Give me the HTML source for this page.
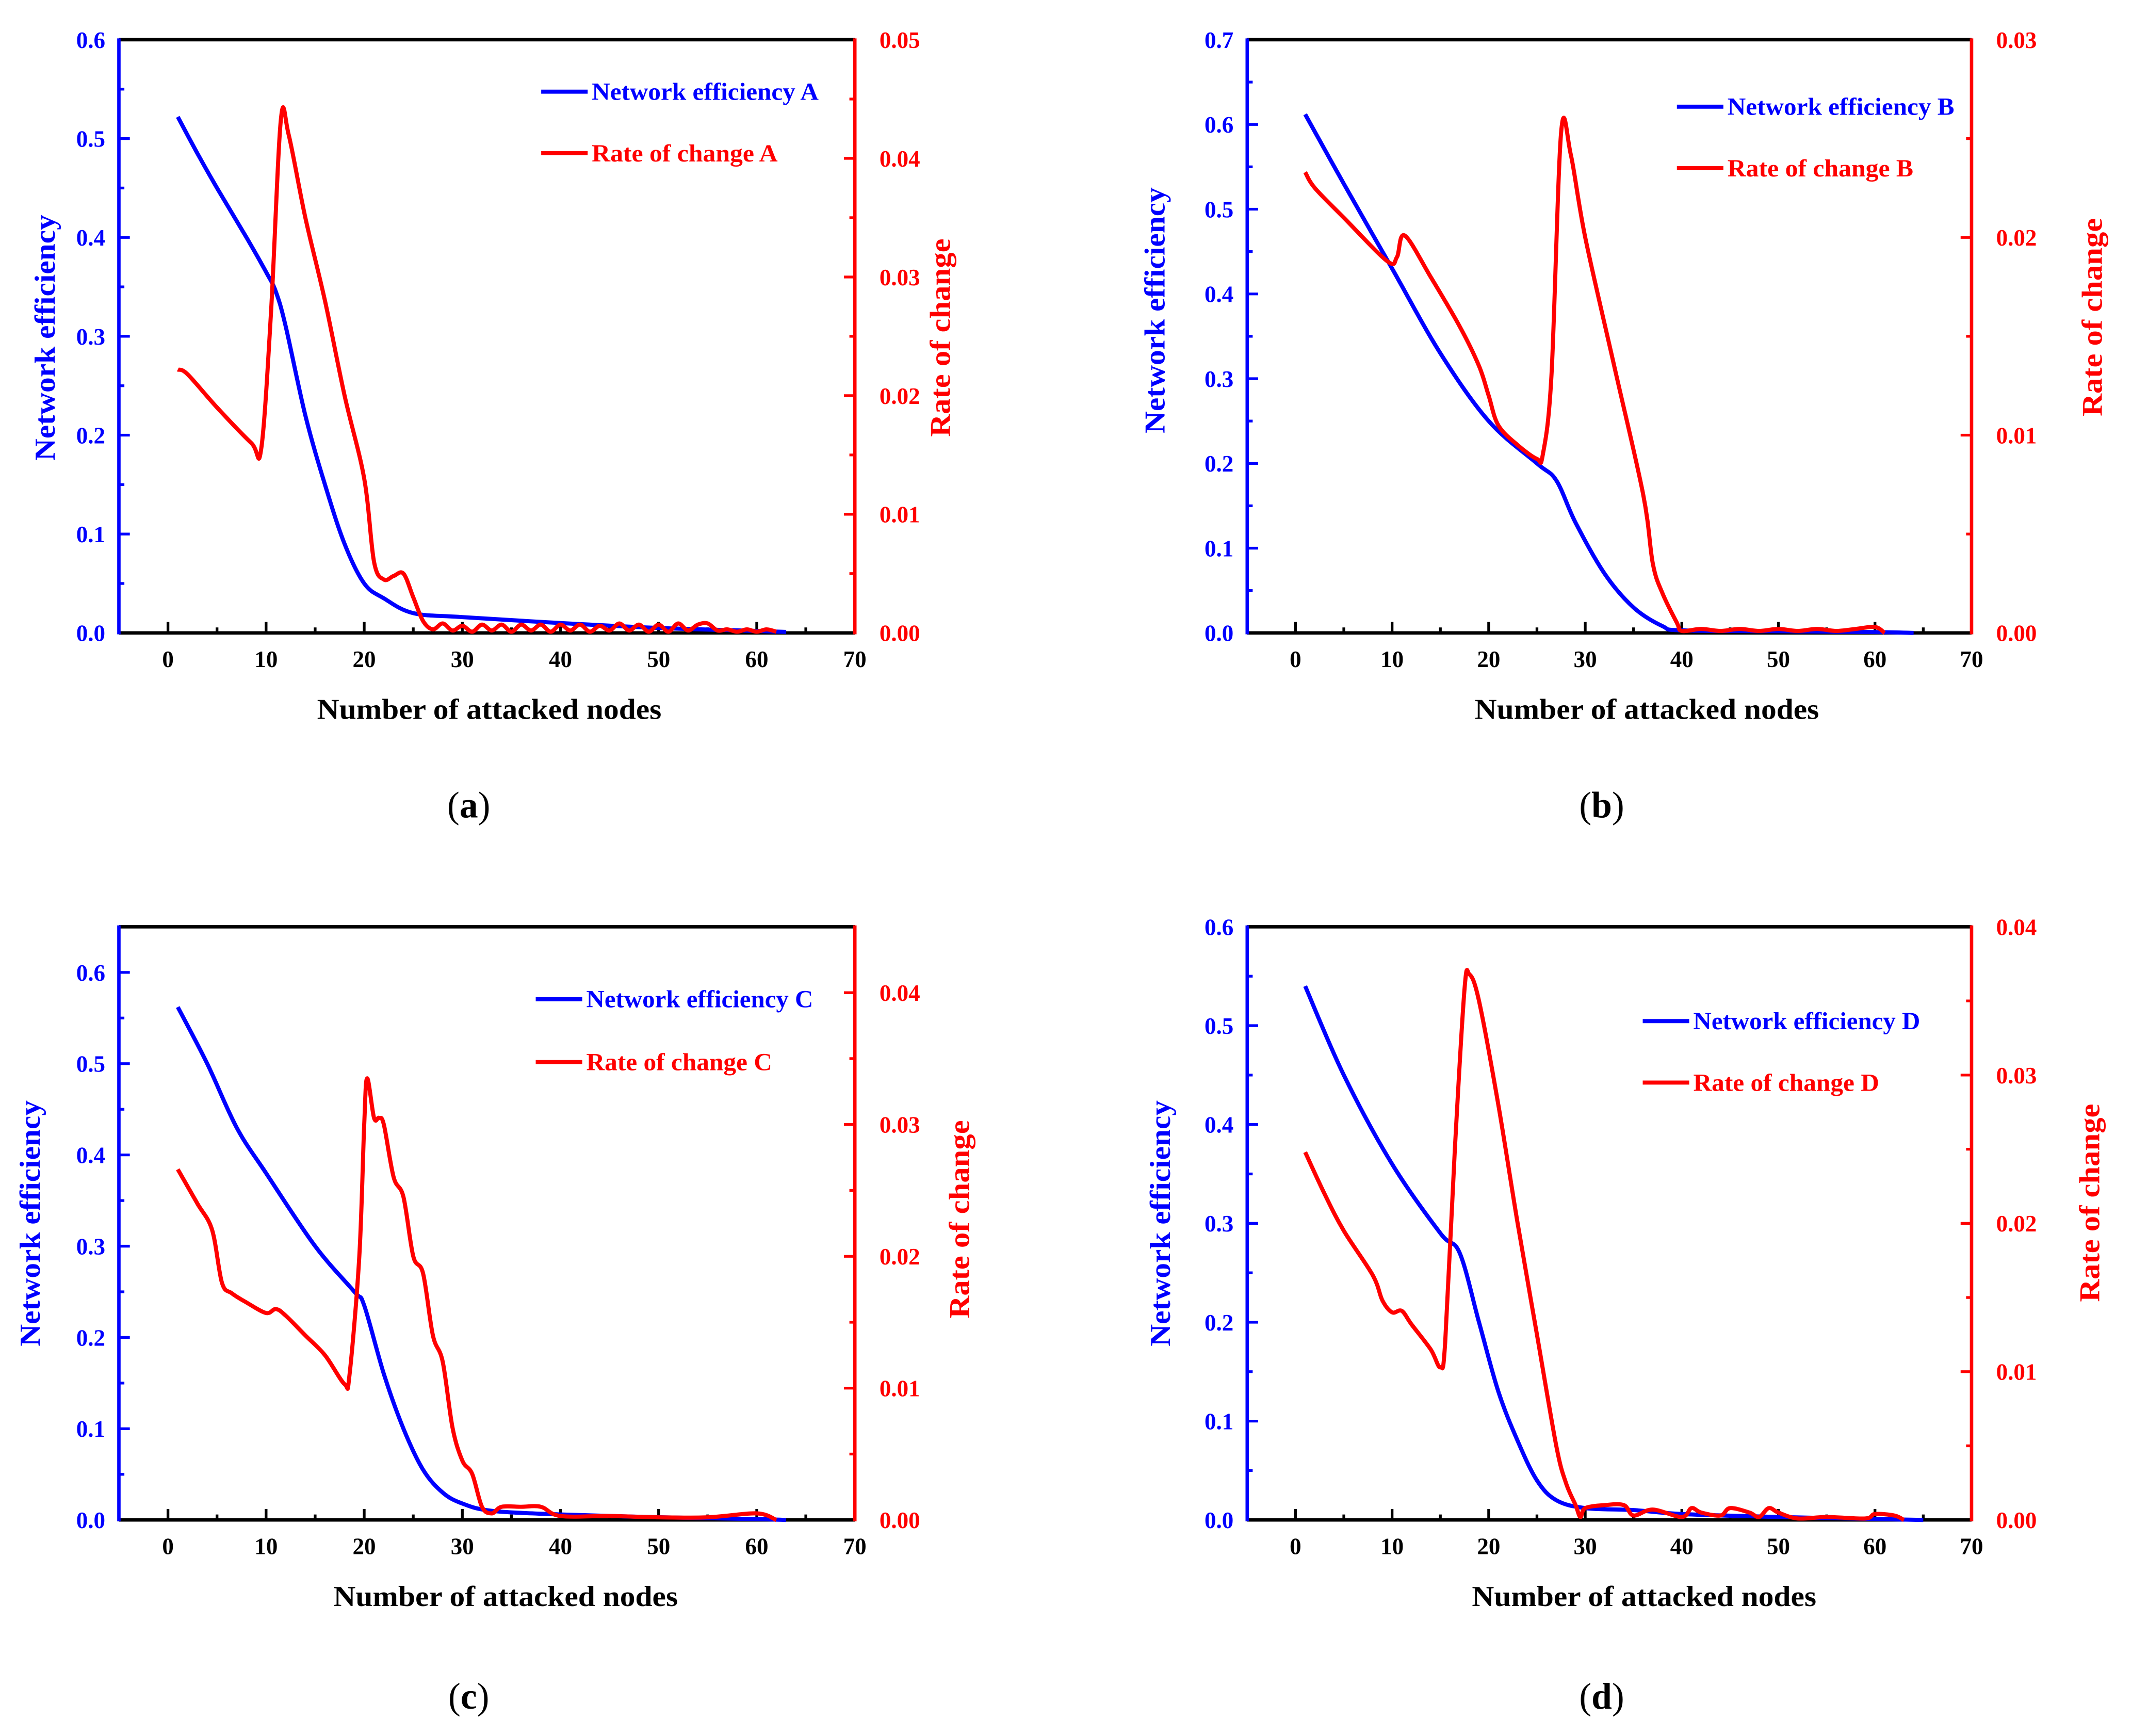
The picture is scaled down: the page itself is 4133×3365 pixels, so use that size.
<!DOCTYPE html>
<html><head><meta charset="utf-8"><style>
html,body{margin:0;padding:0;background:#fff}
svg{display:block}
text{font-family:"Liberation Serif",serif;font-weight:bold}
</style></head><body>
<svg id="fig" width="4133" height="3365" viewBox="0 0 1560 1270" xmlns="http://www.w3.org/2000/svg"></svg>
<script>
const xTicks=[0,10,20,30,40,50,60,70];
// Panel A
const aEffX=[1,3,5,8,10,11,12,14,16,18,20,22,25,30,40,50,60,63];
const aEffY=[0.522,0.485,0.45,0.40,0.365,0.345,0.31,0.22,0.15,0.09,0.05,0.035,0.02,0.016,0.01,0.005,0.002,0.001];
const aRateX=[1,2,5,8.5,9.5,10.5,11.5,12.3,14,16,18,20,21,22,23,24,25,26,27,28,29,30,31,32,33,34,35,36,37,38,39,40,41,42,43,44,45,46,47,48,49,50,51,52,53,54,55,56,57,58,59,60,61,62];
const aRateY=[0.0222,0.0218,0.019,0.016,0.0155,0.027,0.0432,0.042,0.035,0.028,0.02,0.013,0.006,0.0045,0.0048,0.005,0.003,0.001,0.0003,0.0008,0.0002,0.0006,0.0001,0.0007,0.0002,0.0007,0.0001,0.0007,0.0002,0.0007,0.0001,0.0007,0.0002,0.0007,0.0001,0.0006,0.0002,0.0008,0.0002,0.0007,0.0001,0.0007,0.0001,0.0008,0.0002,0.0007,0.0008,0.0002,0.0003,0.0001,0.0003,0.0001,0.0003,0.0001];
// Panel B
const bEffX=[1,5,10,15,20,25,27,29,32,35,38,40,50,60,64];
const bEffY=[0.612,0.53,0.43,0.33,0.25,0.2,0.18,0.13,0.07,0.03,0.008,0.003,0.002,0.001,0.0];
const bRateX=[1,2,5,9.5,10.5,11.3,14,17,19,20,21,23,25,25.6,26.5,27.5,28.5,30,33,36,37,38,39.5,40,42,44,46,48,50,52,54,56,58,60,61];
const bRateY=[0.0233,0.0225,0.021,0.0188,0.019,0.0201,0.018,0.0155,0.0135,0.012,0.0105,0.0095,0.0088,0.009,0.013,0.0253,0.0242,0.02,0.0135,0.007,0.0035,0.002,0.0005,0.0001,0.0002,0.0001,0.0002,0.0001,0.0002,0.0001,0.0002,0.0001,0.0002,0.0003,0.0];
// Panel C
const cEffX=[1,4,7,10,15,19,20,22,24,26,28,30,33,40,50,60,63];
const cEffY=[0.562,0.5,0.43,0.38,0.30,0.25,0.235,0.16,0.1,0.055,0.03,0.018,0.01,0.006,0.003,0.001,0.0];
const cRateX=[1,3,4.5,5.5,6.5,8,10,11,12,14,16,18,18.5,19.5,20,20.3,21,21.5,22,23,24,25,26,27,28,29,30,31,32,33,34,36,38,40,45,50,55,60,62];
const cRateY=[0.0266,0.024,0.022,0.018,0.0172,0.0165,0.0157,0.016,0.0155,0.014,0.0125,0.0103,0.011,0.02,0.03,0.0335,0.0305,0.0305,0.030,0.026,0.0245,0.02,0.0187,0.014,0.012,0.007,0.0045,0.0035,0.001,0.0005,0.001,0.001,0.001,0.0003,0.0003,0.0002,0.0002,0.0005,0.0];
// Panel D
const dEffX=[1,5,10,15,17,19,21,23,25,27,30,35,40,50,60,65];
const dEffY=[0.54,0.45,0.36,0.29,0.27,0.2,0.13,0.08,0.04,0.02,0.012,0.01,0.006,0.003,0.001,0.0];
const dRateX=[1,3,5,8,9,10,11,12,14,15,15.5,16.5,17.5,18,19,21,23,25,27,28,29,29.5,30,32,34,35,37,40,41,42,44,45,47,48,49,50,52,55,59,60,62,63];
const dRateY=[0.0248,0.022,0.0195,0.0165,0.0148,0.014,0.0141,0.0132,0.0115,0.0103,0.012,0.025,0.0358,0.0368,0.035,0.028,0.02,0.0125,0.005,0.0025,0.001,0.0002,0.0008,0.001,0.001,0.0003,0.0007,0.0002,0.0008,0.0005,0.0003,0.0008,0.0005,0.0002,0.0008,0.0005,0.0001,0.0002,0.0001,0.0004,0.0003,0.0];

const panels=[
 {id:'a',L:87,R:625.5,T:29,B:463,lmax:0.6,lticks:[0,0.1,0.2,0.3,0.4,0.5,0.6],rmax:0.05,rticks:[0,0.01,0.02,0.03,0.04,0.05],
  eX:aEffX,eY:aEffY,rX:aRateX,rY:aRateY,leg:[396,67,112],lt:[33,247],rt:[688,247],lab:[343,598],xt:358,tag:'A'},
 {id:'b',L:912.6,R:1442.6,T:29,B:463,lmax:0.7,lticks:[0,0.1,0.2,0.3,0.4,0.5,0.6,0.7],rmax:0.03,rticks:[0,0.01,0.02,0.03],
  eX:bEffX,eY:bEffY,rX:bRateX,rY:bRateY,leg:[1227,78,123],lt:[845,227],rt:[1531,232],lab:[1172,598],xt:1205,tag:'B'},
 {id:'c',L:87,R:625.5,T:678,B:1112,lmax:0.65,lticks:[0,0.1,0.2,0.3,0.4,0.5,0.6],rmax:0.045,rticks:[0,0.01,0.02,0.03,0.04],
  eX:cEffX,eY:cEffY,rX:cRateX,rY:cRateY,leg:[392,731,777],lt:[22,895],rt:[702,892],lab:[343,1250],xt:370,tag:'C'},
 {id:'d',L:912.6,R:1442.6,T:678,B:1112,lmax:0.6,lticks:[0,0.1,0.2,0.3,0.4,0.5,0.6],rmax:0.04,rticks:[0,0.01,0.02,0.03,0.04],
  eX:dEffX,eY:dEffY,rX:dRateX,rY:dRateY,leg:[1202,747,792],lt:[849,895],rt:[1529,880],lab:[1172,1250],xt:1203,tag:'D'}
];
const NS='http://www.w3.org/2000/svg';
const svg=document.getElementById('fig');
function mk(tag,attrs,parent,txt){const e=document.createElementNS(NS,tag);for(const k in attrs)e.setAttribute(k,attrs[k]);if(txt!==undefined)e.textContent=txt;(parent||svg).appendChild(e);return e;}
function smooth(pts){let d='M'+pts[0][0].toFixed(2)+','+pts[0][1].toFixed(2);
 for(let i=0;i<pts.length-1;i++){const p0=pts[Math.max(0,i-1)],p1=pts[i],p2=pts[i+1],p3=pts[Math.min(pts.length-1,i+2)];
  const c1=[p1[0]+(p2[0]-p0[0])/6,p1[1]+(p2[1]-p0[1])/6],c2=[p2[0]-(p3[0]-p1[0])/6,p2[1]-(p3[1]-p1[1])/6];
  d+=' C'+c1[0].toFixed(2)+','+c1[1].toFixed(2)+' '+c2[0].toFixed(2)+','+c2[1].toFixed(2)+' '+p2[0].toFixed(2)+','+p2[1].toFixed(2);}
 return d;}
panels.forEach(p=>{
 const g=mk('g',{});
 
 
 const xs=v=>p.L+(v+5)/75*(p.R-p.L);
 const yl=v=>p.B-v/p.lmax*(p.B-p.T);
 const yr=v=>p.B-v/p.rmax*(p.B-p.T);
 for(let v=0;v<=70;v+=5){const maj=v%10===0;
  const t=mk('line',{x1:xs(v),x2:xs(v),y1:p.B,y2:p.B-(maj?8:4),stroke:'#000','stroke-width':2},g);
  }
 xTicks.forEach(v=>{const t=mk('text',{x:xs(v),y:p.B+25,'text-anchor':'middle','font-size':17,fill:'#000'},g,String(v));
  });
 for(let v=0;v<=p.lmax+1e-9;v+=0.05){const maj=Math.abs(Math.round(v*10)-v*10)<1e-6;
  const t=mk('line',{x1:p.L,x2:p.L+(maj?8:4),y1:yl(v),y2:yl(v),stroke:'#0000ff','stroke-width':2},g);
  }
 p.lticks.forEach(v=>{const t=mk('text',{x:p.L-10,y:yl(v)+6,'text-anchor':'end','font-size':17,fill:'#0000ff'},g,v.toFixed(1));
  });
 const rstep=p.rticks[1]/2;
 for(let v=0;v<=p.rmax+1e-9;v+=rstep){const maj=Math.abs(Math.round(v/p.rticks[1])-v/p.rticks[1])<1e-6;
  const t=mk('line',{x1:p.R,x2:p.R-(maj?8:4),y1:yr(v),y2:yr(v),stroke:'#ff0000','stroke-width':2},g);
  }
 p.rticks.forEach(v=>{const t=mk('text',{x:p.R+18,y:yr(v)+6,'text-anchor':'start','font-size':17,fill:'#ff0000'},g,v.toFixed(2));
  });
 let e=mk('line',{x1:p.L,x2:p.R,y1:p.T,y2:p.T,stroke:'#000','stroke-width':2.5},g);
 
 e=mk('line',{x1:p.L,x2:p.R,y1:p.B,y2:p.B,stroke:'#000','stroke-width':2.5},g);
 
 e=mk('line',{x1:p.L,x2:p.L,y1:p.T-1,y2:p.B+1,stroke:'#0000ff','stroke-width':2.5},g);
 
 e=mk('line',{x1:p.R,x2:p.R,y1:p.T-1,y2:p.B+1,stroke:'#ff0000','stroke-width':2.5},g);
 
 e=mk('path',{d:smooth(p.eX.map((x,i)=>[xs(x),yl(p.eY[i])])),fill:'none',stroke:'#0000ff','stroke-width':3,'stroke-linejoin':'round'},g);
 
 e=mk('path',{d:smooth(p.rX.map((x,i)=>[xs(x),yr(p.rY[i])])),fill:'none',stroke:'#ff0000','stroke-width':3,'stroke-linejoin':'round'},g);
 
 const lx=p.leg[0];
 e=mk('line',{x1:lx,x2:lx+34,y1:p.leg[1],y2:p.leg[1],stroke:'#0000ff','stroke-width':3},g);
 
 e=mk('text',{x:lx+37,y:p.leg[1]+6,'font-size':18,fill:'#0000ff',textLength:166,lengthAdjust:'spacingAndGlyphs'},g,'Network efficiency '+p.tag);
 
 e=mk('line',{x1:lx,x2:lx+34,y1:p.leg[2],y2:p.leg[2],stroke:'#ff0000','stroke-width':3},g);
 
 e=mk('text',{x:lx+37,y:p.leg[2]+6,'font-size':18,fill:'#ff0000',textLength:136,lengthAdjust:'spacingAndGlyphs'},g,'Rate of change '+p.tag);
 
 e=mk('text',{x:p.xt,y:p.B+63,'text-anchor':'middle','font-size':21,fill:'#000',textLength:252,lengthAdjust:'spacingAndGlyphs'},g,'Number of attacked nodes');
 
 e=mk('text',{x:0,y:0,'text-anchor':'middle','font-size':21,fill:'#0000ff',textLength:180,lengthAdjust:'spacingAndGlyphs',transform:`translate(${p.lt[0]+7},${p.lt[1]}) rotate(-90)`},g,'Network efficiency');
 
 e=mk('text',{x:0,y:0,'text-anchor':'middle','font-size':21,fill:'#ff0000',textLength:145,lengthAdjust:'spacingAndGlyphs',transform:`translate(${p.rt[0]+7},${p.rt[1]}) rotate(-90)`},g,'Rate of change');
 
 e=mk('text',{x:p.lab[0],y:p.lab[1],'text-anchor':'middle','font-size':27,fill:'#000','font-weight':'normal'},g);
 
 mk('tspan',{'font-weight':'normal'},e,'(');mk('tspan',{'font-weight':'bold'},e,p.id);mk('tspan',{'font-weight':'normal'},e,')');
});
</script>
</body></html>
